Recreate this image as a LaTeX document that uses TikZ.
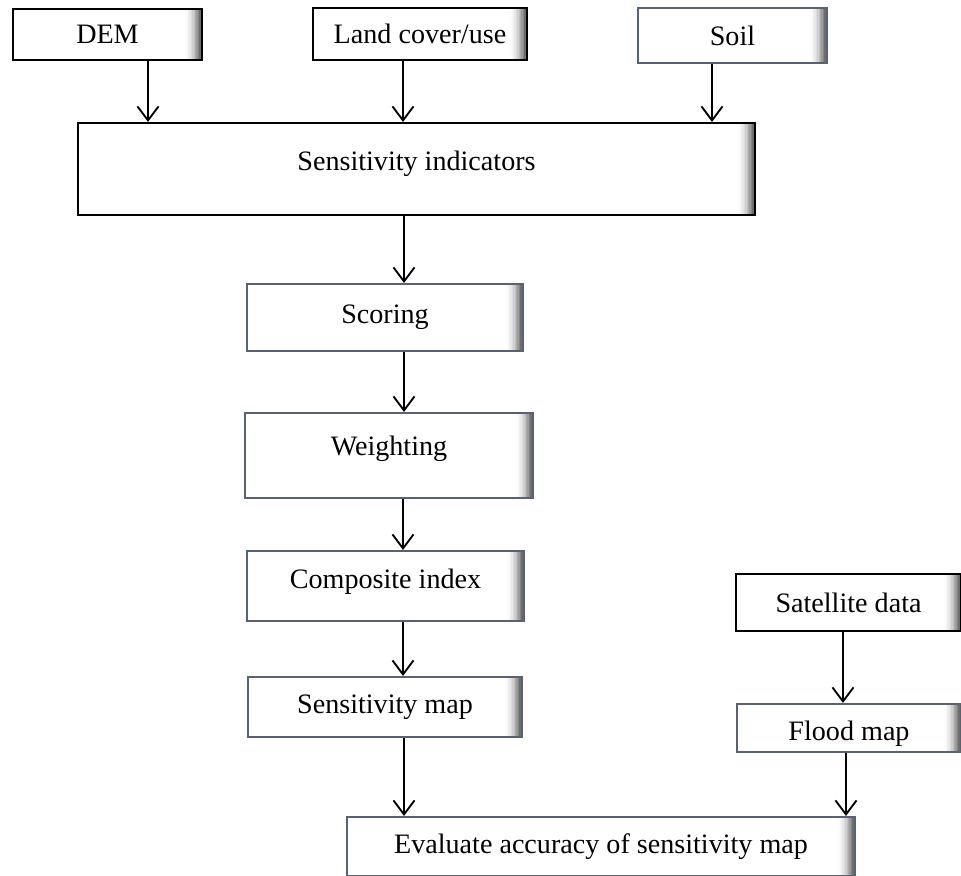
\documentclass[tikz,border=0pt]{standalone}
\usepackage{fontspec}
\setmainfont{Liberation Serif}
\usetikzlibrary{arrows.meta}
\definecolor{slate}{RGB}{88,98,118}
\def\u{0.25mm}
\newcommand{\lift}[2]{\raisebox{#1}[\height][\depth]{#2}}
\begin{document}
\begin{tikzpicture}[x=\u,y=-\u,
  box/.style={draw=black,line width=1.5pt,fill=white,inner sep=0pt,
    font=\fontsize{20}{24}\selectfont,
    path picture={\foreach \i [evaluate=\i as \k using int(\i*\i*0.4)] in {0,...,13}
      \fill[black!\k] ([xshift={-(14-\i)*1pt}]path picture bounding box.north east)
        rectangle ([xshift={-(13-\i)*1pt}]path picture bounding box.south east);}},
  gbox/.style={box,draw=slate},
  arr/.style={line width=1.3pt,-{Straight Barb[length=10pt,width=15pt,line width=1.3pt]}}]
\useasboundingbox (0,0) rectangle (961,876);
%inputs
\node[box,minimum width=189*\u,minimum height=51*\u] (dem) at (107.5,34.5) {DEM};
\node[box,minimum width=214*\u,minimum height=52*\u] (land) at (420,34) {Land cover/use};
\node[gbox,minimum width=189*\u,minimum height=55*\u] (soil) at (732.5,35.5) {Soil};
\node[box,minimum width=677*\u,minimum height=92*\u] (ind) at (416.5,169) {\lift{4pt}{Sensitivity indicators}};
%chain
\node[gbox,minimum width=276*\u,minimum height=67*\u] (score) at (385,317.5) {Scoring};
\node[gbox,minimum width=288*\u,minimum height=85*\u] (weight) at (389,455.5) {\lift{5pt}{Weighting}};
\node[gbox,minimum width=277*\u,minimum height=70*\u] (comp) at (385.5,586) {\lift{3pt}{Composite index}};
\node[gbox,minimum width=274*\u,minimum height=60*\u] (smap) at (385,707) {Sensitivity map};
\node[box,minimum width=225*\u,minimum height=57*\u] (sat) at (848.5,602.5) {Satellite data};
\node[gbox,minimum width=224*\u,minimum height=48*\u] (flood) at (849,728) {\lift{-4pt}{Flood map}};
\node[gbox,minimum width=508*\u,minimum height=59*\u] (eval) at (601,846.5) {Evaluate accuracy of sensitivity map};
%arrows
\coordinate (a1) at (148,0);
\coordinate (a2) at (403,0);
\coordinate (a3) at (712,0);
\coordinate (a4) at (404,0);
\coordinate (a5) at (843,0);
\coordinate (a6) at (846,0);
\draw[arr] (dem.south-|a1)--(ind.north-|a1);
\draw[arr] (land.south-|a2)--(ind.north-|a2);
\draw[arr] (soil.south-|a3)--(ind.north-|a3);
\draw[arr] (ind.south-|a4)--(score.north-|a4);
\draw[arr] (score.south-|a4)--(weight.north-|a4);
\draw[arr] (weight.south-|a2)--(comp.north-|a2);
\draw[arr] (comp.south-|a2)--(smap.north-|a2);
\draw[arr] (smap.south-|a4)--(eval.north-|a4);
\draw[arr] (sat.south-|a5)--(flood.north-|a5);
\draw[arr] (flood.south-|a6)--(eval.north-|a6);
\end{tikzpicture}
\end{document}
